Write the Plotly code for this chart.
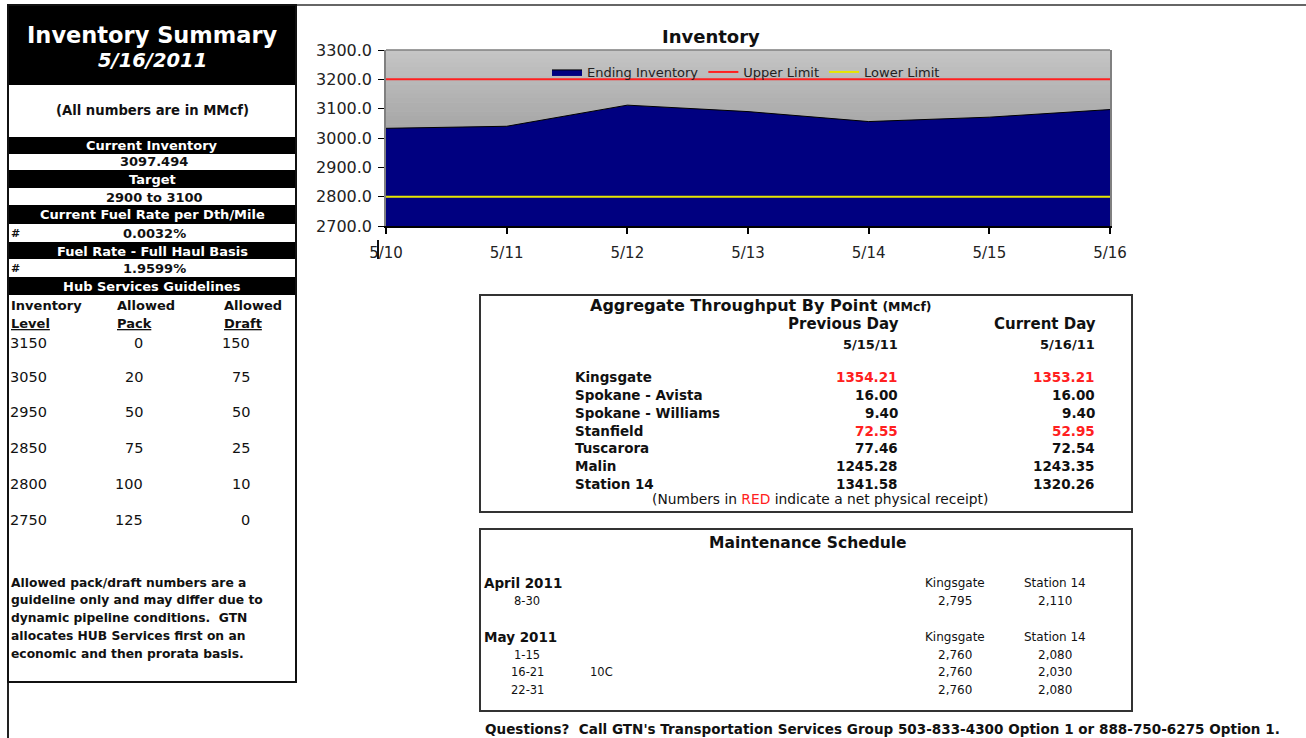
import plotly.graph_objects as go

W, H = 1306, 738
FONT = "DejaVu Sans"

# ---------------- data ----------------
dates = ["5/10", "5/11", "5/12", "5/13", "5/14", "5/15", "5/16"]
ending_inventory = [3033, 3040, 3112, 3090, 3056, 3071, 3097]
upper_limit = [3200, 3200, 3200, 3200, 3200, 3200, 3200]
lower_limit = [2800, 2800, 2800, 2800, 2800, 2800, 2800]
y_ticks = [2700, 2800, 2900, 3000, 3100, 3200, 3300]

summary_title = "Inventory Summary"
summary_date = "5/16/2011"
units_note = "(All numbers are in MMcf)"
summary_labels = ["Current Inventory", "Target", "Current Fuel Rate per Dth/Mile",
                  "Fuel Rate - Full Haul Basis", "Hub Services Guidelines"]
summary_values = ["3097.494", "2900 to 3100", "0.0032%", "1.9599%"]
summary_marks = ["", "", "#", "#"]

hub_headers_top = ["Inventory", "Allowed", "Allowed"]
hub_headers_bottom = ["Level", "Pack", "Draft"]
hub_levels = ["3150", "3050", "2950", "2850", "2800", "2750"]
hub_pack = ["0", "20", "50", "75", "100", "125"]
hub_draft = ["150", "75", "50", "25", "10", "0"]
hub_note = ["Allowed pack/draft numbers are a",
            "guideline only and may differ due to",
            "dynamic pipeline conditions.  GTN",
            "allocates HUB Services first on an",
            "economic and then prorata basis."]

tp_title = "Aggregate Throughput By Point"
tp_units = "(MMcf)"
tp_col_heads = ["Previous Day", "Current Day"]
tp_col_dates = ["5/15/11", "5/16/11"]
tp_points = ["Kingsgate", "Spokane - Avista", "Spokane - Williams", "Stanfield",
             "Tuscarora", "Malin", "Station 14"]
tp_prev = ["1354.21", "16.00", "9.40", "72.55", "77.46", "1245.28", "1341.58"]
tp_curr = ["1353.21", "16.00", "9.40", "52.95", "72.54", "1243.35", "1320.26"]
tp_receipt = [True, False, False, True, False, False, False]
tp_footnote = ("(Numbers in <span style='color:#ff2020'>RED</span> "
               "indicate a net physical receipt)")

ms_title = "Maintenance Schedule"
ms_cols = ["Kingsgate", "Station 14"]
ms_months = ["April 2011", "May 2011"]
ms_periods = [["8-30"], ["1-15", "16-21", "22-31"]]
ms_notes = [[""], ["", "10C", ""]]
ms_kingsgate = [["2,795"], ["2,760", "2,760", "2,760"]]
ms_station14 = [["2,110"], ["2,080", "2,030", "2,080"]]

footer = ("Questions?  Call GTN's Transportation Services Group 503-833-4300 "
          "Option 1 or 888-750-6275 Option 1.")

# ---------------- helpers ----------------
annotations = []
shapes = []


def px(x):
    return x / W


def py(y):
    return 1 - y / H


def txt(s, x, y, size, color="#111111", anchor="center", bold=False, italic=False):
    if bold:
        s = f"<b>{s}</b>"
    if italic:
        s = f"<i>{s}</i>"
    annotations.append(dict(text=s, x=px(x), y=py(y), xref="paper", yref="paper",
                            xanchor=anchor, yanchor="middle", showarrow=False,
                            borderpad=0,
                            font=dict(family=FONT, size=size, color=color)))


def rect(x0, y0, x1, y1, fill=None, line=None, lw=0, layer="above"):
    shapes.append(dict(type="rect", xref="paper", yref="paper",
                       x0=px(x0), x1=px(x1), y0=py(y1), y1=py(y0),
                       fillcolor=fill if fill else "rgba(0,0,0,0)",
                       line=dict(color=line if line else "rgba(0,0,0,0)", width=lw),
                       layer=layer))


def hline(x0, x1, y, color, lw):
    shapes.append(dict(type="line", xref="paper", yref="paper",
                       x0=px(x0), x1=px(x1), y0=py(y), y1=py(y),
                       line=dict(color=color, width=lw)))


def vline(x, y0, y1, color, lw):
    shapes.append(dict(type="line", xref="paper", yref="paper",
                       x0=px(x), x1=px(x), y0=py(y0), y1=py(y1),
                       line=dict(color=color, width=lw)))


# ---------------- figure / chart ----------------
fig = go.Figure()
fig.add_trace(go.Scatter(x=dates, y=ending_inventory, name="Ending Inventory",
                         mode="lines", line=dict(color="#000000", width=1),
                         fill="tozeroy", fillcolor="#000080"))
fig.add_trace(go.Scatter(x=dates, y=upper_limit, name="Upper Limit", mode="lines",
                         line=dict(color="#ff2020", width=2)))
fig.add_trace(go.Scatter(x=dates, y=lower_limit, name="Lower Limit", mode="lines",
                         line=dict(color="#e6e600", width=2)))

# gradient plot background (bands)
N = 40
for i in range(N):
    c = int(197 - (197 - 128) * i / (N - 1))
    shapes.append(dict(type="rect", xref="x domain", yref="y domain",
                       x0=0, x1=1, y0=1 - (i + 1) / N, y1=1 - i / N + 0.002,
                       fillcolor=f"rgb({c},{c},{c})", line=dict(width=0),
                       layer="below"))
# top border of plot area
shapes.append(dict(type="line", xref="x domain", yref="y domain", x0=0, x1=1,
                   y0=1, y1=1, line=dict(color="#808080", width=1.5)))
# stray cursor mark under first tick
vline(378, 240, 259, "#111111", 2)

txt("Inventory", 711, 36, 18, bold=True)

# ---------------- page frame ----------------
hline(8, W, 5, "#333333", 1.5)
vline(8, 5, H, "#222222", 2)

# ---------------- left panel ----------------
LX0, LX1, LC = 8, 296, 152
rect(7, 5, 296, 85, fill="#000000")
txt(summary_title, LC, 35, 22.5, color="#ffffff", bold=True)
txt(summary_date, LC, 60, 19.5, color="#ffffff", bold=True, italic=True)
txt(units_note, LC, 110, 13.2, bold=True)

bar_spans = [(137, 154), (170, 188), (205, 224), (242, 259), (277, 295)]
value_y = [162, 197, 233, 268]
for lab, (a, b) in zip(summary_labels, bar_spans):
    rect(LX0, a, LX1, b, fill="#000000")
    txt(lab, LC, (a + b) / 2 + 0.5, 13, color="#ffffff", bold=True)
for val, mark, yy in zip(summary_values, summary_marks, value_y):
    txt(val, LC + 2, yy, 13, bold=True)
    if mark:
        txt(mark, 10, yy, 11, bold=True, anchor="left")

head_x = [(10, "left"), (116, "left"), (223, "left")]
for t, (x, a) in zip(hub_headers_top, head_x):
    txt(t, x, 305, 13, bold=True, anchor=a)
for t, (x, a) in zip(hub_headers_bottom, head_x):
    txt(f"<u>{t}</u>", x, 324, 13, bold=True, anchor=a)
row_y = [343, 377, 412, 448, 484, 520]
for lv, pk, dr, yy in zip(hub_levels, hub_pack, hub_draft, row_y):
    txt(lv, 9, yy, 14.5, anchor="left")
    txt(pk, 144, yy, 14.5, anchor="right")
    txt(dr, 251, yy, 14.5, anchor="right")
note_y = [583, 600, 618, 636, 654]
for line, yy in zip(hub_note, note_y):
    txt(line, 10, yy, 12.3, bold=True, anchor="left")

rect(LX0, 5, LX1, 682, line="#111111", lw=2)

# ---------------- throughput box ----------------
rect(480, 295, 1132, 512, line="#333333", lw=2)
txt(f"<b>{tp_title}</b> <span style='font-size:12.5px'><b>{tp_units}</b></span>",
    589, 305, 16, anchor="left")
txt(tp_col_heads[0], 900, 324, 15, bold=True, anchor="right")
txt(tp_col_heads[1], 1097, 324, 15, bold=True, anchor="right")
txt(tp_col_dates[0], 899, 344, 13, bold=True, anchor="right")
txt(tp_col_dates[1], 1096, 344, 13, bold=True, anchor="right")
tp_y = [377, 395, 413, 431, 448, 466, 484]
for name, pv, cv, red, yy in zip(tp_points, tp_prev, tp_curr, tp_receipt, tp_y):
    col = "#ff2020" if red else "#111111"
    txt(name, 574, yy, 13.5, bold=True, anchor="left")
    txt(pv, 899, yy, 13.5, color=col, bold=True, anchor="right")
    txt(cv, 1096, yy, 13.5, color=col, bold=True, anchor="right")
txt(tp_footnote, 820, 499, 13.8)

# ---------------- maintenance box ----------------
rect(480, 529, 1132, 711, line="#333333", lw=2)
txt(ms_title, 808, 543, 15.5, bold=True)
month_y = [583, 637]
row_ys = [[601], [655, 672, 690]]
for m, my, pers, notes, kg, st, rys in zip(ms_months, month_y, ms_periods, ms_notes,
                                           ms_kingsgate, ms_station14, row_ys):
    txt(m, 483, my, 13.5, bold=True, anchor="left")
    txt(ms_cols[0], 955, my, 12)
    txt(ms_cols[1], 1055, my, 12)
    for p, n, k, s, ry in zip(pers, notes, kg, st, rys):
        txt(p, 527, ry, 11.5)
        if n:
            txt(n, 601, ry, 11.5)
        txt(k, 955, ry, 12)
        txt(s, 1055, ry, 12)

txt(footer, 484, 729, 13.55, bold=True, anchor="left")

# ---------------- layout ----------------
fig.update_layout(
    width=W, height=H, autosize=False,
    margin=dict(l=0, r=0, t=0, b=0, pad=0, autoexpand=False),
    paper_bgcolor="#ffffff", plot_bgcolor="#c0c0c0",
    showlegend=True,
    legend=dict(orientation="h", x=px(547), y=py(72), xanchor="left", yanchor="middle",
                bgcolor="rgba(0,0,0,0)", font=dict(family=FONT, size=13, color="#222222"),
                itemwidth=30, tracegroupgap=0),
    xaxis=dict(domain=[px(386), px(1110)], type="category", range=[0, 6],
               showline=True, linecolor="#000000", linewidth=1.5, mirror=False,
               ticks="outside", ticklen=6, tickcolor="#000000", tickwidth=1.5,
               ticklabelstandoff=6,
               showgrid=False, zeroline=False, fixedrange=True, automargin=False,
               tickfont=dict(family=FONT, size=15, color="#222222")),
    yaxis=dict(domain=[py(226), py(50)], range=[2700, 3300], tickvals=y_ticks,
               tickformat=".1f", showline=True, linecolor="#808080", linewidth=1.5,
               mirror=True, ticks="outside", ticklen=6, tickcolor="#000000",
               ticklabelstandoff=3,
               showgrid=False, zeroline=False, fixedrange=True, automargin=False,
               tickfont=dict(family=FONT, size=16, color="#222222")),
    annotations=annotations,
    shapes=shapes,
)

# the page itself has no margin, so the figure fills the window exactly
fig.write_html("out.html", config={"displayModeBar": False},
               post_script="document.body.style.margin='0';"
                           "document.body.style.overflow='hidden';")
